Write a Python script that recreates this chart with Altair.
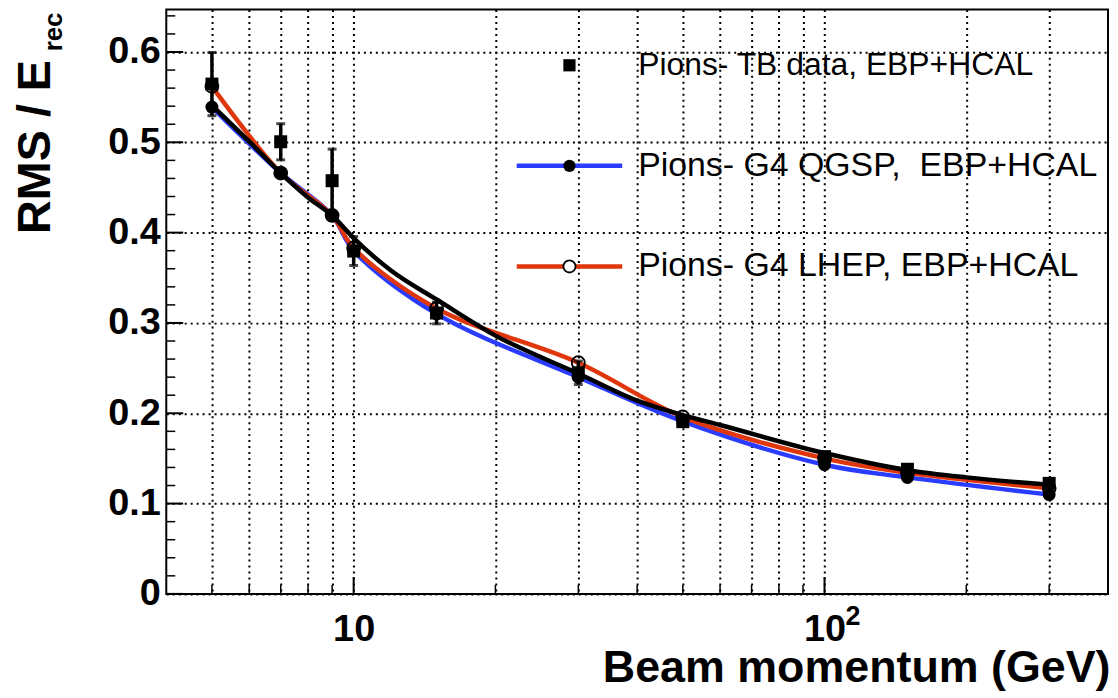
import altair as alt
import pandas as pd

FONT = "Liberation Sans"

# ---- data ----
energies = [5, 7, 9, 10, 15, 30, 50, 100, 150, 300]
tb_rms = [0.5645, 0.5006, 0.4575, 0.3796, 0.311, 0.2448, 0.1907, 0.152, 0.138, 0.1224]
tb_err = [0.035, 0.020, 0.035, 0.016, 0.012, 0.013, 0.005, 0.004, 0.004, 0.004]
qgsp_rms = [0.539, 0.466, 0.419, 0.380, 0.310, 0.240, 0.191, 0.143, 0.129, 0.110]
lhep_rms = [0.562, 0.466, 0.419, 0.383, 0.316, 0.256, 0.196, 0.150, 0.134, 0.117]
fit_e = [5, 6, 7, 8, 9, 10, 12, 15, 20, 30, 40, 50, 60, 100, 150, 200, 300]
fit_rms = [0.541, 0.501, 0.466, 0.439, 0.419, 0.394, 0.358, 0.326, 0.286, 0.244,
           0.214, 0.198, 0.187, 0.156, 0.137, 0.129, 0.121]

NB = "\u00a0"
legend_labels = ["Pions- TB data, EBP+HCAL",
                 "Pions- G4 QGSP," + NB + NB + "EBP+HCAL",
                 "Pions- G4 LHEP, EBP+HCAL"]
legend_sizes = [32, 34, 34]

x_grid_vals = [5, 6, 7, 8, 9, 10, 20, 30, 40, 50, 60, 70, 80, 90, 100, 200, 300]
x_major_ticks = [10, 100]
x_minor_ticks = [5, 6, 7, 8, 9, 20, 30, 40, 50, 60, 70, 80, 90, 200, 300]
y_major_ticks = [0, 0.1, 0.2, 0.3, 0.4, 0.5, 0.6]
y_minor_ticks = [0.02, 0.04, 0.06, 0.08, 0.12, 0.14, 0.16, 0.18, 0.22, 0.24, 0.26, 0.28,
                 0.32, 0.34, 0.36, 0.38, 0.42, 0.44, 0.46, 0.48, 0.52, 0.54, 0.56, 0.58,
                 0.62, 0.64]

W, H = 946, 587
BLUE = "#2a3cff"
RED = "#e0360c"

tb = pd.DataFrame({"E": energies, "rms": tb_rms, "err": tb_err})
tb["lo"] = tb["rms"] - tb["err"]
tb["hi"] = tb["rms"] + tb["err"]
qg = pd.DataFrame({"E": energies, "rms": qgsp_rms})
lh = pd.DataFrame({"E": energies, "rms": lhep_rms})
fit = pd.DataFrame({"E": fit_e, "rms": fit_rms})

xs = alt.Scale(type="log", domain=[4, 400], nice=False)
ys = alt.Scale(domain=[0, 0.647], nice=False, zero=False)

GRID = dict(grid=True, gridColor="black", gridDash=[2, 4], gridWidth=2, gridOpacity=1)

x_axis = alt.Axis(
    values=x_grid_vals,
    labelExpr="(datum.value == 10 || datum.value == 100) ? '10' : ''",
    ticks=False, tickSize=0, domain=False, **GRID,
    labelFont=FONT, labelFontWeight="bold", labelFontSize=38, labelColor="black",
    labelBaseline="alphabetic", labelPadding=47, labelAlign="center",
    labelFlush=False, labelOverlap=False,
    title="Beam momentum (GeV)", titleFont=FONT, titleFontWeight="bold",
    titleFontSize=45, titleColor="black", titleAlign="right", titleAnchor="end",
    titleX=W + 2, titleY=88, titleBaseline="alphabetic",
)
y_axis = alt.Axis(
    values=y_major_ticks,
    labelExpr="datum.value == 0 ? '0' : format(datum.value, '.1f')",
    ticks=False, tickSize=0, domain=False, **GRID,
    labelFont=FONT, labelFontWeight="bold", labelFontSize=38, labelColor="black",
    labelPadding=6, labelBaseline="middle", labelOverlap=False, labelFlush=False,
    title="RMS / E", titleFont=FONT, titleFontWeight="bold", titleFontSize=47,
    titleColor="black", titleAngle=270, titleAlign="left", titleBaseline="alphabetic",
    titleX=-117, titleY=225,
)


def X():
    return alt.X("E:Q", scale=xs, axis=x_axis)


def Y(field="rms"):
    return alt.Y(f"{field}:Q", scale=ys, axis=y_axis)


fit_line = alt.Chart(fit).mark_line(color="black", strokeWidth=4.5, interpolate="monotone").encode(
    x=X(), y=Y())
blue_line = alt.Chart(qg).mark_line(color=BLUE, strokeWidth=4.5, interpolate="catmull-rom").encode(
    x=X(), y=Y())
red_line = alt.Chart(lh).mark_line(color=RED, strokeWidth=4.5, interpolate="catmull-rom").encode(
    x=X(), y=Y())

err_bars = alt.Chart(tb).mark_rule(color="black", strokeWidth=3.5).encode(
    x=X(), y=Y("lo"), y2="hi:Q")
cap_lo = alt.Chart(tb).mark_tick(color="black", orient="horizontal", size=9, thickness=3).encode(
    x=X(), y=Y("lo"))
cap_hi = alt.Chart(tb).mark_tick(color="black", orient="horizontal", size=9, thickness=3).encode(
    x=X(), y=Y("hi"))

qg_pts = alt.Chart(qg).mark_point(shape="circle", filled=True, color="black", size=170, opacity=1).encode(
    x=X(), y=Y())
lh_pts = alt.Chart(lh).mark_point(shape="circle", filled=False, color="black", size=170,
                                  strokeWidth=1.8, opacity=1).encode(x=X(), y=Y())
tb_pts = alt.Chart(tb).mark_point(shape="square", filled=True, color="black", size=170, opacity=1).encode(
    x=X(), y=Y())

# inward frame ticks
xmaj = alt.Chart(pd.DataFrame({"E": x_major_ticks})).mark_rule(color="black", strokeWidth=2).encode(
    x=X(), y=alt.value(H), y2=alt.value(H - 17))
xmin = alt.Chart(pd.DataFrame({"E": x_minor_ticks})).mark_rule(color="black", strokeWidth=1.5).encode(
    x=X(), y=alt.value(H), y2=alt.value(H - 9))
ymaj = alt.Chart(pd.DataFrame({"rms": y_major_ticks})).mark_rule(color="black", strokeWidth=2).encode(
    y=Y(), x=alt.value(0), x2=alt.value(17))
ymin = alt.Chart(pd.DataFrame({"rms": y_minor_ticks})).mark_rule(color="black", strokeWidth=1.5).encode(
    y=Y(), x=alt.value(0), x2=alt.value(9))

# exponent of the 10^2 tick label
expo = alt.Chart(pd.DataFrame({"E": [100]})).mark_text(
    align="left", baseline="alphabetic", fontSize=27, fontWeight="bold", font=FONT,
    color="black", dx=21).encode(x=X(), y=alt.value(H + 31), text=alt.value("2"))

# y-title subscript
one = pd.DataFrame({"a": [0]})
sub = alt.Chart(one).mark_text(angle=270, align="left", baseline="alphabetic", fontSize=26,
                               fontWeight="bold", font=FONT, color="black").encode(
    x=alt.value(-105), y=alt.value(42), text=alt.value("rec"))

# legend
LX, LX1, LX2, TX = 405, 352, 458, 474
ROWS = [56, 157, 258]
leg = []
leg.append(alt.Chart(one).mark_point(shape="square", filled=True, color="black", size=150, opacity=1).encode(
    x=alt.value(LX), y=alt.value(ROWS[0])))
leg.append(alt.Chart(one).mark_rule(color=BLUE, strokeWidth=4.5).encode(
    x=alt.value(LX1), x2=alt.value(LX2), y=alt.value(ROWS[1])))
leg.append(alt.Chart(one).mark_point(shape="circle", filled=True, color="black", size=150, opacity=1).encode(
    x=alt.value(LX), y=alt.value(ROWS[1])))
leg.append(alt.Chart(one).mark_rule(color=RED, strokeWidth=4.5).encode(
    x=alt.value(LX1), x2=alt.value(LX2), y=alt.value(ROWS[2])))
leg.append(alt.Chart(one).mark_point(shape="circle", filled=True, fill="white", stroke="black",
                                     strokeWidth=1.8, size=150, opacity=1).encode(
    x=alt.value(LX), y=alt.value(ROWS[2])))
for i, lab in enumerate(legend_labels):
    leg.append(alt.Chart(pd.DataFrame({"t": [lab]})).mark_text(
        align="left", baseline="middle", fontSize=legend_sizes[i], font=FONT, color="black").encode(
        x=alt.value(TX), y=alt.value(ROWS[i]), text="t:N"))

chart = alt.layer(
    blue_line, red_line, fit_line,
    err_bars, cap_lo, cap_hi, qg_pts, lh_pts, tb_pts,
    xmaj, xmin, ymaj, ymin, expo, sub, *leg
).properties(
    width=W, height=H,
    autosize=alt.AutoSizeParams(type="none"),
    padding={"left": 159, "top": 0, "right": 2, "bottom": 100},
).configure(
    background="white",
    view=alt.ViewConfig(stroke="black", strokeWidth=2),
)

chart.save("out.html", embed_options={"renderer": "svg", "actions": False})
